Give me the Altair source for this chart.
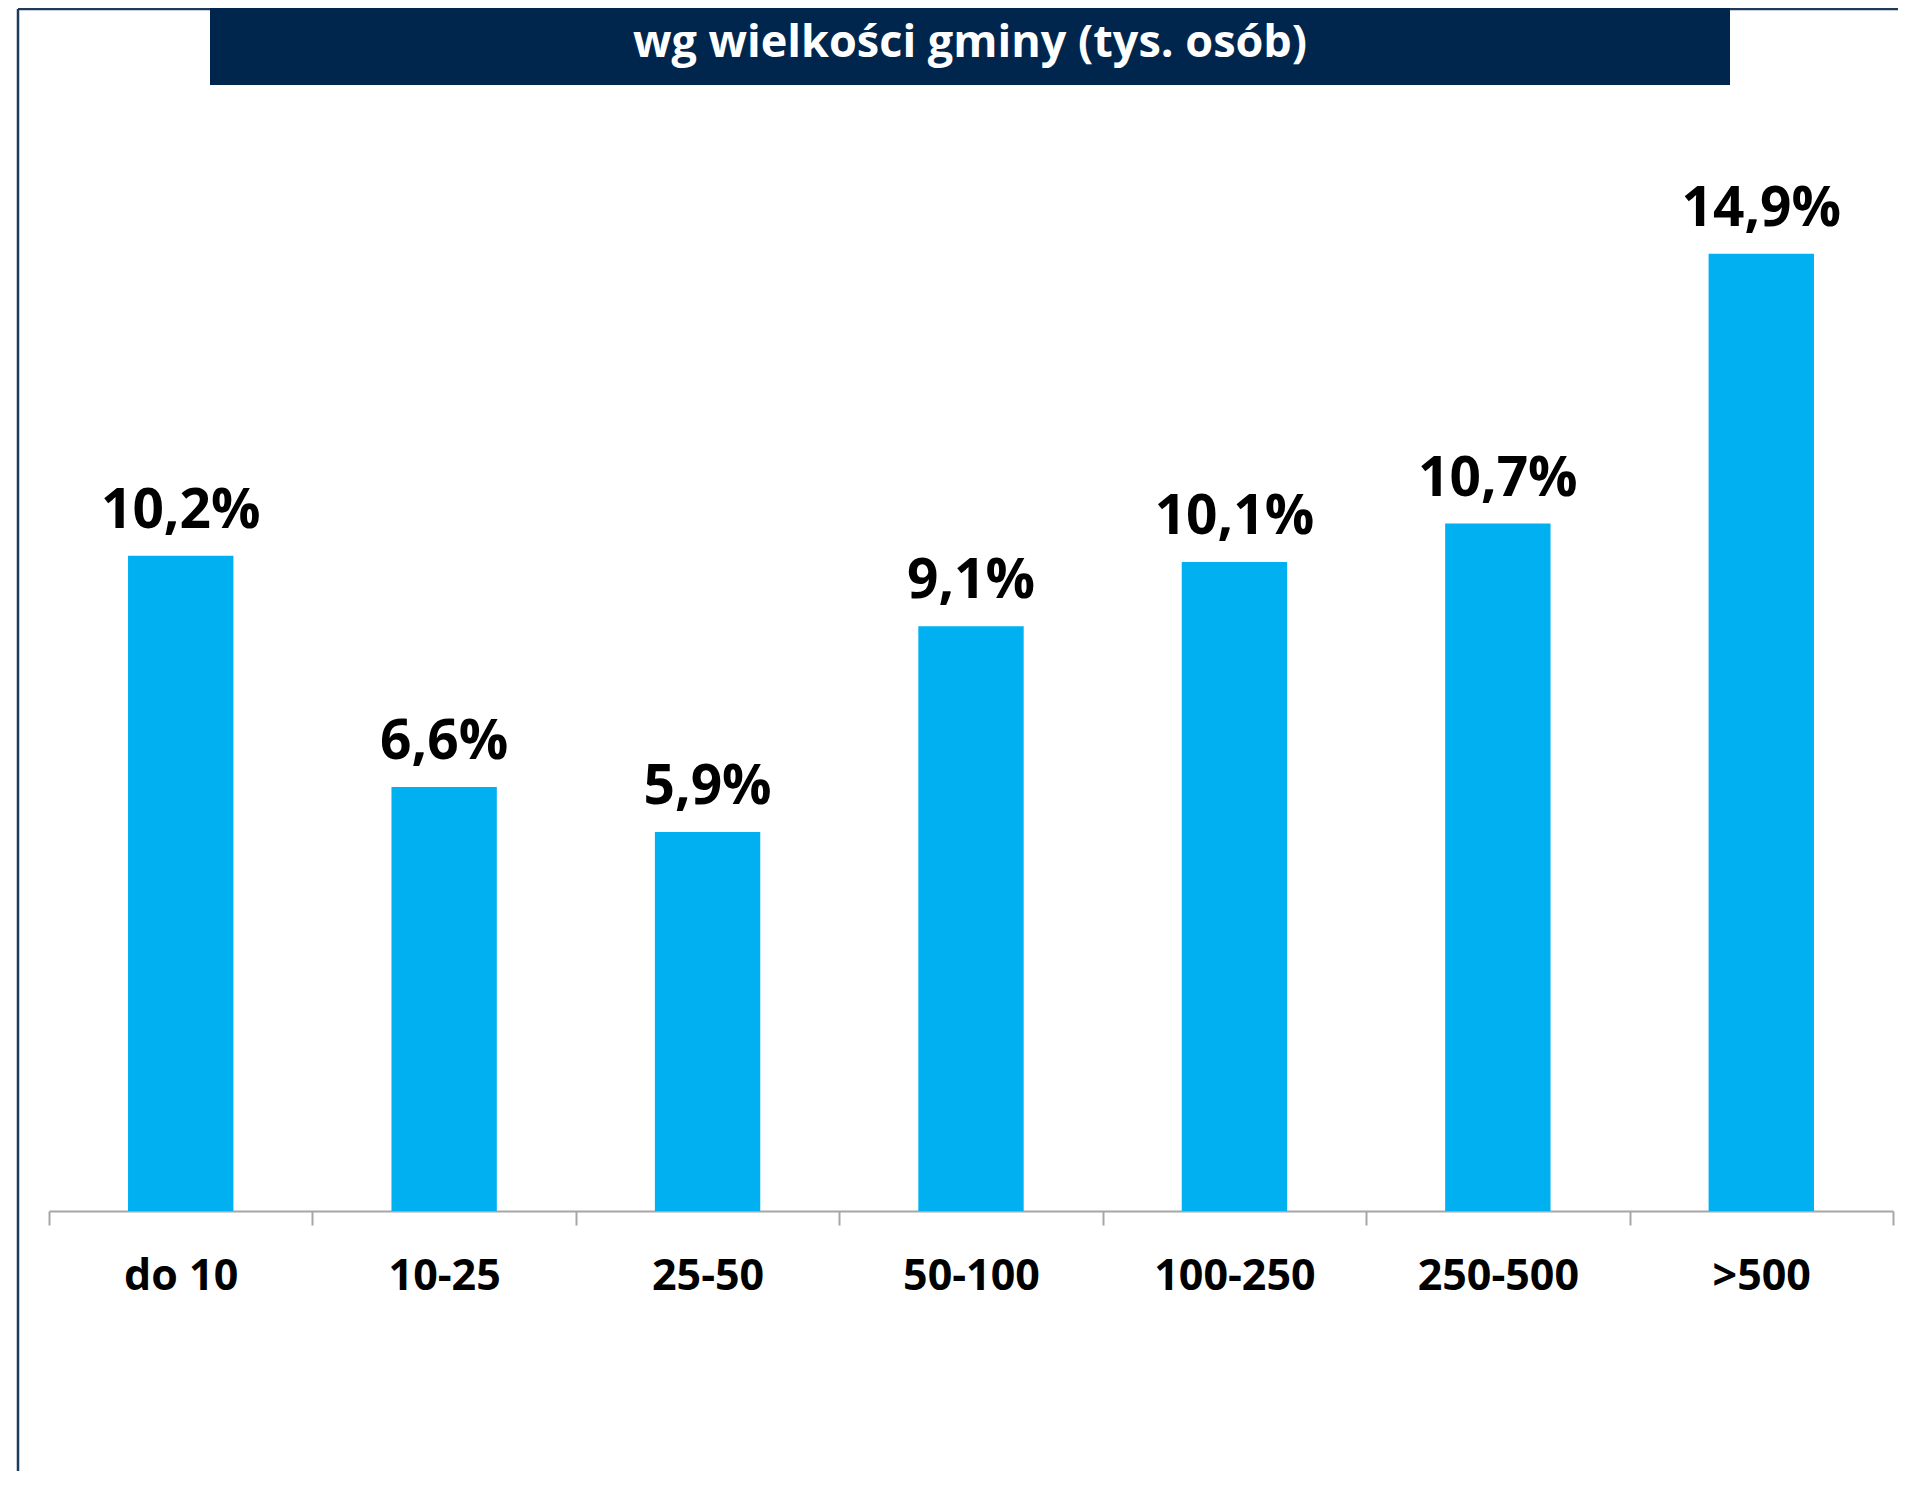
import altair as alt
import pandas as pd

categories = ["do 10", "10-25", "25-50", "50-100", "100-250", "250-500", ">500"]
values = [10.2, 6.6, 5.9, 9.1, 10.1, 10.7, 14.9]
title_text = "wg wielkości gminy (tys. osób)"

df = pd.DataFrame({"kat": categories, "v": values})
one = pd.DataFrame({"t": [title_text]})

W, H = 1844, 1028
FONT = "Open Sans"

x_enc = alt.X(
    "kat:N",
    sort=categories,
    scale=alt.Scale(paddingInner=0, paddingOuter=0),
    axis=alt.Axis(
        title=None,
        tickBand="extent",
        domainColor="#A6A6A6",
        domainWidth=2,
        tickColor="#A6A6A6",
        tickWidth=2,
        tickSize=14,
        labelFont=FONT,
        labelFontWeight="bold",
        labelFontSize=43,
        labelColor="#000000",
        labelPadding=30,
        labelAngle=0,
    ),
)
y_enc = alt.Y("v:Q", scale=alt.Scale(domain=[0, 16], nice=False), axis=None)

bars = alt.Chart(df).mark_bar(color="#00B0F0", width=alt.RelativeBandSize(0.4)).encode(
    x=x_enc, y=y_enc
)

labels = (
    alt.Chart(df)
    .transform_calculate(lab="replace(format(datum.v, '.1f'), '.', ',') + '%'")
    .mark_text(font=FONT, fontWeight="bold", fontSize=55, baseline="alphabetic",
               dy=-28, color="#000000")
    .encode(x=alt.X("kat:N", sort=categories), y="v:Q", text="lab:N")
)

title_box = alt.Chart(one).mark_rect(color="#00264D").encode(
    x=alt.value(161), x2=alt.value(1681), y=alt.value(-200), y2=alt.value(-98)
)
title_txt = alt.Chart(one).mark_text(
    font=FONT, fontWeight="bold", fontSize=45, color="#FFFFFF",
    align="center", baseline="alphabetic"
).encode(x=alt.value(921), y=alt.value(-126), text="t:N")

frame_left = alt.Chart(one).mark_rule(color="#1F3B5C", strokeWidth=2.5).encode(
    x=alt.value(-31), y=alt.value(-174), y2=alt.value(1400)
)
frame_top1 = alt.Chart(one).mark_rule(color="#1F3B5C", strokeWidth=2.5).encode(
    x=alt.value(-31), x2=alt.value(161), y=alt.value(-174)
)
frame_top2 = alt.Chart(one).mark_rule(color="#1F3B5C", strokeWidth=2.5).encode(
    x=alt.value(1681), x2=alt.value(1900), y=alt.value(-174)
)

chart = (
    alt.layer(bars, labels, frame_left, frame_top1, frame_top2, title_box, title_txt)
    .properties(
        width=W,
        height=H,
        autosize=alt.AutoSizeParams(type="none"),
        padding={"left": 41, "top": 175, "right": 5, "bottom": 260},
    )
    .configure_view(stroke=None)
)

chart.save("out.html", embed_options={"renderer": "svg", "actions": False})
